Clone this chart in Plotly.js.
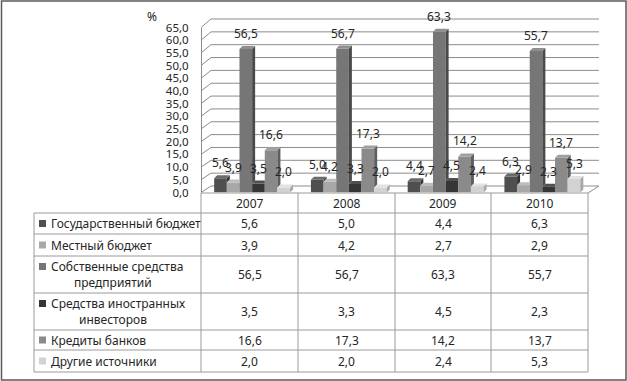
<!DOCTYPE html>
<html><head><meta charset="utf-8">
<script src="https://cdn.plot.ly/plotly-3.0.1.min.js"></script>
<style>body{margin:0;background:#fff}#chart{width:627px;height:381px}</style>
</head><body><div id="chart"></div>
<script>
// ---- data ----
const years = ['2007', '2008', '2009', '2010'];
const seriesNames = ['Государственный бюджет', 'Местный бюджет', 'Собственные средства предприятий',
  'Средства иностранных инвесторов', 'Кредиты банков', 'Другие источники'];
const rowLabelLines = [['Государственный бюджет'], ['Местный бюджет'], ['Собственные средства', 'предприятий'],
  ['Средства иностранных', 'инвесторов'], ['Кредиты банков'], ['Другие источники']];
const gosBudget = [5.6, 5.0, 4.4, 6.3];
const mestBudget = [3.9, 4.2, 2.7, 2.9];
const sobstvSredstva = [56.5, 56.7, 63.3, 55.7];
const inostrInvest = [3.5, 3.3, 4.5, 2.3];
const kredityBankov = [16.6, 17.3, 14.2, 13.7];
const drugieIst = [2.0, 2.0, 2.4, 5.3];
const yTicks = [0, 5, 10, 15, 20, 25, 30, 35, 40, 45, 50, 55, 60, 65];
const yUnit = '%';

const values = [gosBudget, mestBudget, sobstvSredstva, inostrInvest, kredityBankov, drugieIst];

// ---- styles ----
const frontCol = ['#4f4f4f', '#a8a8a8', '#767676', '#363636', '#8a8a8a', '#d2d2d2'];
const sideCol  = ['#333333', '#808080', '#4a4a4a', '#1e1e1e', '#5e5e5e', '#a8a8a8'];
const topCol   = ['#6a6a6a', '#bdbdbd', '#8f8f8f', '#505050', '#a0a0a0', '#e2e2e2'];
const FONT = 'Noto Sans, Open Sans, sans-serif';
const TXT = '#262626';
const W = 627, H = 381;
const px = x => x / W, py = y => 1 - y / H;
const fmt = v => v.toFixed(1).replace('.', ',');

// geometry (px)
const plotL = 201, plotR = 588, y0px = 192.5, y65px = 27.5;
const pxPerUnitX = (plotR - plotL) / 4;
const pxPerUnitY = (y0px - y65px) / 65;
const BW = 12.65 / pxPerUnitX;      // bar width in category units
const OFF0 = -35.2 / pxPerUnitX;    // first bar left edge from category centre
const DX = 3 / pxPerUnitX, DY = 3 / pxPerUnitY;

const traces = [];
const xs = years.map((_, j) => j);
// front faces
values.forEach((vals, i) => {
  traces.push({
    type: 'bar', x: xs, y: vals, offset: OFF0 + i * BW, width: BW,
    marker: {color: frontCol[i], line: {width: 0}}, name: seriesNames[i],
    showlegend: false, hoverinfo: 'skip'
  });
});
// side + top faces
values.forEach((vals, i) => {
  const sx = [], sy = [], tx = [], ty = [];
  vals.forEach((v, j) => {
    const xl = j + OFF0 + i * BW, xr = xl + BW;
    const next = i < values.length - 1 ? values[i + 1][j] : 0;
    if (next < v) {
      sx.push(xr, xr, xr + DX, xr + DX, xr, null);
      sy.push(next, v, v + DY, next + DY, next, null);
      tx.push(xl, xr, xr + DX, xl + DX, xl, null);
      ty.push(v, v, v + DY, v + DY, v, null);
    } else {
      tx.push(xl, xr, xr, xl + DX, xl, null);
      ty.push(v, v, v + DY, v + DY, v, null);
    }
  });
  traces.push({type: 'scatter', mode: 'lines', x: sx, y: sy, fill: 'toself', fillcolor: sideCol[i],
    line: {width: 0, color: sideCol[i]}, showlegend: false, hoverinfo: 'skip', connectgaps: false});
  traces.push({type: 'scatter', mode: 'lines', x: tx, y: ty, fill: 'toself', fillcolor: topCol[i],
    line: {width: 0, color: topCol[i]}, showlegend: false, hoverinfo: 'skip', connectgaps: false});
});

const annotations = [];
// value labels above bars (data coordinates)
values.forEach((vals, i) => {
  vals.forEach((v, j) => {
    annotations.push({xref: 'x', yref: 'y', x: j + OFF0 + (i + 0.5) * BW, y: v + DY, text: fmt(v),
      showarrow: false, xanchor: 'center', yanchor: 'bottom', yshift: 2,
      font: {family: FONT, size: 12, color: TXT}});
  });
});

// ---- 3D walls, gridlines ----
const shapes = [];
const gridCol = '#8c8c8c';
const backL = 211, backR = 599;
const yFront = t => y0px - t * pxPerUnitY;
const yBack = t => 186 - t * (167 / 65);
yTicks.forEach(t => {
  shapes.push({type: 'line', xref: 'paper', yref: 'paper', x0: px(plotL), y0: py(yFront(t)), x1: px(backL), y1: py(yBack(t)),
    line: {color: gridCol, width: 1}, layer: 'below'});
  shapes.push({type: 'line', xref: 'paper', yref: 'paper', x0: px(backL), y0: py(yBack(t)), x1: px(backR), y1: py(yBack(t)),
    line: {color: gridCol, width: 1}, layer: 'below'});
});
shapes.push({type: 'line', xref: 'paper', yref: 'paper', x0: px(plotR), y0: py(y0px + 0.5), x1: px(backR), y1: py(yBack(0)),
  line: {color: gridCol, width: 1}, layer: 'below'});

// ---- table ----
const tabCol = '#9a9a9a';
const tabL = 34, colX = [201, 298, 395, 491, 588];
const headTop = 193, rowY = [213, 234, 256, 293, 330, 350, 372];
const hl = (x0, x1, y) => shapes.push({type: 'line', xref: 'paper', yref: 'paper', x0: px(x0), x1: px(x1), y0: py(y), y1: py(y), line: {color: tabCol, width: 1}});
const vl = (x, y0, y1) => shapes.push({type: 'line', xref: 'paper', yref: 'paper', x0: px(x), x1: px(x), y0: py(y0), y1: py(y1), line: {color: tabCol, width: 1}});
hl(colX[0], colX[4], headTop);
rowY.forEach(y => hl(tabL, colX[4], y));
vl(tabL, rowY[0], rowY[6]);
colX.forEach(x => vl(x, headTop, rowY[6]));

const ann = (x, y, text, xanchor, size) => annotations.push({xref: 'paper', yref: 'paper', x: px(x), y: py(y), text,
  showarrow: false, xanchor: xanchor || 'center', yanchor: 'middle', font: {family: FONT, size: size || 12, color: TXT}});
years.forEach((yr, j) => ann((colX[j] + colX[j + 1]) / 2, (headTop + rowY[0]) / 2 + 0.5, yr));
values.forEach((vals, i) => {
  const yc = (rowY[i] + rowY[i + 1]) / 2;
  vals.forEach((v, j) => ann((colX[j] + colX[j + 1]) / 2, yc, fmt(v)));
  const lines = rowLabelLines[i];
  const y1 = lines.length === 1 ? yc : yc - 8;
  shapes.push({type: 'rect', xref: 'paper', yref: 'paper', x0: px(39), x1: px(46), y0: py(y1 - 3.5), y1: py(y1 + 3.5),
    fillcolor: frontCol[i], line: {width: 0}});
  ann(49, y1, lines[0], 'left');
  if (lines.length > 1) ann(113, yc + 8, lines[1], 'center');
});
ann(152, 16, yUnit, 'center', 12);

// outer frame
shapes.push({type: 'rect', xref: 'paper', yref: 'paper', x0: px(1.5), x1: px(626), y0: py(1), y1: py(380),
  line: {color: '#5a5a5a', width: 1.5}});

const layout = {
  width: W, height: H, margin: {l: 0, r: 0, t: 0, b: 0}, paper_bgcolor: '#fff', plot_bgcolor: 'rgba(0,0,0,0)',
  separators: ', ', barmode: 'overlay', showlegend: false,
  xaxis: {domain: [px(plotL), px(plotR)], range: [-0.5, 3.5], showticklabels: false, showgrid: false,
    zeroline: false, showline: false, fixedrange: true},
  yaxis: {domain: [py(y0px), py(y65px)], range: [0, 65], tickvals: yTicks, tickformat: '.1f',
    anchor: 'free', position: px(plotL), showgrid: false, zeroline: false, showline: true, linecolor: gridCol,
    ticks: '', ticklabelstandoff: 10, tickfont: {family: FONT, size: 11.5, color: TXT}, fixedrange: true},
  shapes, annotations,
  font: {family: FONT}
};
Plotly.newPlot('chart', traces, layout, {displayModeBar: false, staticPlot: true});
</script>
</body></html>
